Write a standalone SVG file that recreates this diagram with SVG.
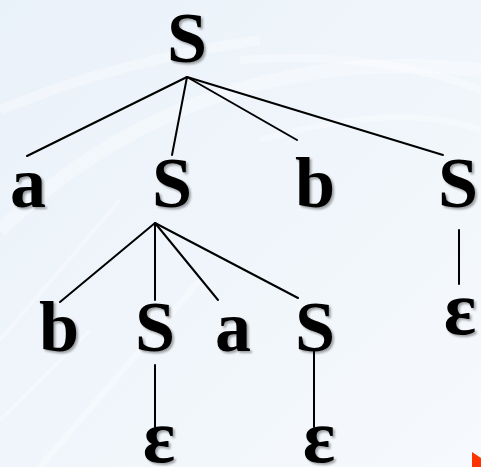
<svg xmlns="http://www.w3.org/2000/svg" width="481" height="467" viewBox="0 0 481 467">
<defs>
<linearGradient id="bg" x1="0" y1="0" x2="1" y2="1">
<stop offset="0" stop-color="#e9f1f9"/>
<stop offset="0.6" stop-color="#f1f6fb"/>
<stop offset="1" stop-color="#f6f9fd"/>
</linearGradient>
<filter id="sh" x="-20%" y="-20%" width="140%" height="140%">
<feDropShadow dx="2" dy="2" stdDeviation="1.2" flood-color="#000" flood-opacity="0.35"/>
</filter>
<style>
.t{font-family:"Liberation Serif","Times New Roman",serif;font-weight:bold;font-size:72px;fill:#000;text-anchor:middle;filter:url(#sh)}
.e{font-size:76px}
.c line{stroke:#000;stroke-width:2;stroke-linecap:round}
.st{fill:none;stroke:#ffffff;stroke-opacity:0.35}
</style>
</defs>
<rect width="481" height="467" fill="url(#bg)"/>
<g id="background">
<path class="st" d="M0 230 Q200 40 481 70" stroke-width="14"/>
<path class="st" d="M240 60 Q380 50 481 90" stroke-width="8"/>
<path class="st" d="M0 110 Q120 60 260 40" stroke-width="10"/>
<path class="st" d="M0 340 L120 200" stroke-width="4"/>
<path class="st" d="M40 467 L200 280" stroke-width="6"/>
<path class="st" d="M260 140 Q400 100 481 130" stroke-width="6"/>
<path class="st" d="M0 420 L90 330" stroke-width="4"/>
</g>
<g id="connectors" class="c">
<line x1="187" y1="77" x2="27" y2="156"/>
<line x1="187" y1="77" x2="172" y2="155"/>
<line x1="187" y1="77" x2="297" y2="140"/>
<line x1="187" y1="77" x2="443" y2="155"/>
<line x1="155" y1="223" x2="60" y2="302"/>
<line x1="155" y1="223" x2="155" y2="300"/>
<line x1="155" y1="223" x2="218" y2="300"/>
<line x1="155" y1="223" x2="298" y2="298"/>
<line x1="459" y1="230" x2="459" y2="284"/>
<line x1="155" y1="365" x2="155" y2="427"/>
<line x1="314" y1="350" x2="314" y2="427"/>
</g>
<g id="n-root"><text class="t" x="187" y="62">S</text></g>
<g id="n-a1"><text class="t" x="28" y="207">a</text></g>
<g id="n-S1"><text class="t" x="172" y="207">S</text></g>
<g id="n-b1"><text class="t" x="315" y="207">b</text></g>
<g id="n-S2"><text class="t" x="458" y="207">S</text></g>
<g id="n-b2"><text class="t" x="59" y="351">b</text></g>
<g id="n-S3"><text class="t" x="155" y="351">S</text></g>
<g id="n-a2"><text class="t" x="233" y="351">a</text></g>
<g id="n-S4"><text class="t" x="315" y="351">S</text></g>
<g id="n-eps1"><text class="t e" x="460" y="334">ε</text></g>
<g id="n-eps2"><text class="t e" x="159" y="462">ε</text></g>
<g id="n-eps3"><text class="t e" x="319" y="462">ε</text></g>
<polygon points="472,452 481,458 481,467 472,467" fill="#ff3300"/>
</svg>
